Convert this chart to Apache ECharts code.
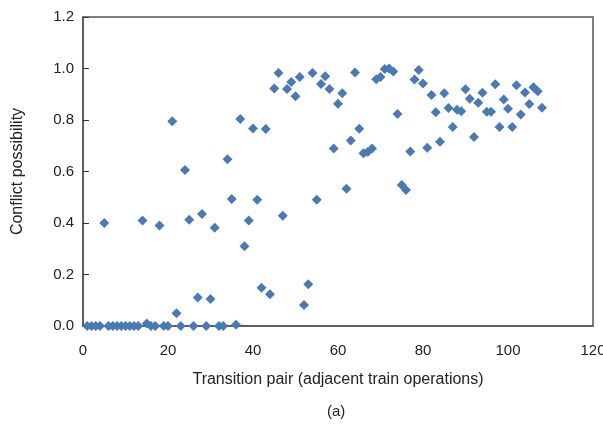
<!DOCTYPE html>
<html>
<head>
<meta charset="utf-8">
<script src="https://cdn.jsdelivr.net/npm/echarts@6/dist/echarts.min.js"></script>
<style>
  html, body { margin: 0; padding: 0; background: #fff; }
  #main { width: 603px; height: 425px; }
</style>
</head>
<body>
<div id="main"></div>
<script>
// transition pair index (1..108) and conflict possibility
var pairs = [];
for (var i = 1; i <= 108; i++) pairs.push(i);

var possibility = [
  0, 0, 0, 0, 0.40, 0, 0, 0, 0, 0,
  0, 0, 0, 0.41, 0.01, 0, 0, 0.39, 0, 0,
  0.795, 0.05, 0, 0.606, 0.413, 0, 0.111, 0.435, 0, 0.105,
  0.382, 0, 0, 0.648, 0.493, 0.005, 0.804, 0.31, 0.41, 0.767,
  0.49, 0.149, 0.765, 0.123, 0.922, 0.983, 0.428, 0.920, 0.948, 0.892,
  0.967, 0.082, 0.162, 0.983, 0.49, 0.94, 0.970, 0.920, 0.689, 0.863,
  0.904, 0.533, 0.72, 0.984, 0.766, 0.671, 0.676, 0.689, 0.958, 0.967,
  0.998, 1.0, 0.988, 0.823, 0.548, 0.528, 0.678, 0.957, 0.994, 0.942,
  0.692, 0.897, 0.83, 0.716, 0.904, 0.847, 0.773, 0.840, 0.834, 0.919,
  0.883, 0.734, 0.867, 0.906, 0.832, 0.832, 0.939, 0.773, 0.88, 0.844,
  0.773, 0.935, 0.821, 0.907, 0.862, 0.927, 0.912, 0.848
];

var data = pairs.map(function (x, k) { return [x, possibility[k]]; });

var font = 'Liberation Sans, Arial, sans-serif';
var chart = echarts.init(document.getElementById('main'));

chart.setOption({
  animation: false,
  backgroundColor: '#fff',
  grid: {
    left: 83, right: 10, top: 17, bottom: 99,
    outerBoundsMode: 'none',
    show: true, borderColor: '#555', borderWidth: 1.5, backgroundColor: 'transparent'
  },
  graphic: [{
    type: 'text',
    left: 327, top: 404,
    style: { text: '(a)', font: '15px ' + font, fill: '#222' }
  }],
  xAxis: {
    type: 'value',
    min: 0, max: 120, interval: 20,
    name: 'Transition pair (adjacent train operations)',
    nameLocation: 'middle',
    nameGap: 46,
    nameTextStyle: { fontFamily: font, fontSize: 16, color: '#222' },
    axisLine: { lineStyle: { color: '#555', width: 1.5 } },
    axisTick: { show: false },
    splitLine: { show: false },
    axisLabel: { fontFamily: font, fontSize: 15, color: '#222', margin: 17 }
  },
  yAxis: {
    type: 'value',
    min: 0, max: 1.2, interval: 0.2,
    name: 'Conflict possibility',
    nameLocation: 'middle',
    nameGap: 57,
    nameTextStyle: { fontFamily: font, fontSize: 16, color: '#222' },
    axisLine: { show: true, lineStyle: { color: '#555', width: 1.5 } },
    axisTick: { show: true, inside: true, length: 6, lineStyle: { color: '#333' } },
    splitLine: { show: false },
    axisLabel: {
      fontFamily: font, fontSize: 15, color: '#222', margin: 9,
      formatter: function (v) { return v.toFixed(1); }
    }
  },
  series: [{
    type: 'scatter',
    symbol: 'diamond',
    symbolSize: [10, 10],
    itemStyle: { color: '#4a7ab5', opacity: 1 },
    data: data
  }]
});
</script>
</body>
</html>
